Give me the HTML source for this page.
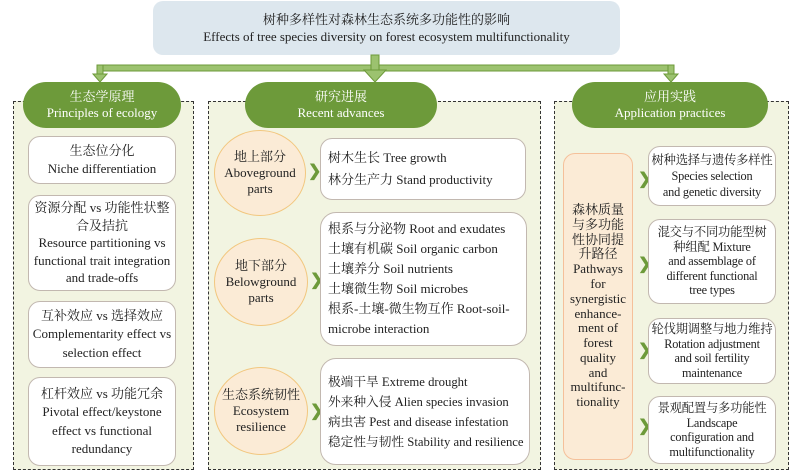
<!DOCTYPE html>
<html><head><meta charset="utf-8"><style>
*{margin:0;padding:0;box-sizing:border-box}
body{width:800px;height:472px;background:#fff;position:relative;overflow:hidden;font-family:"Liberation Serif","Noto Serif CJK SC",serif;font-size:13px;color:#222}
.a{position:absolute}
.panel{position:absolute;background:#f2f4e1;border:1.3px dashed #333}
.pill{position:absolute;background:#6d9a3a;border-radius:24px;color:#fff;text-align:center;font-size:13px;line-height:16px;display:flex;flex-direction:column;justify-content:center}
.box{position:absolute;background:#fff;border:1.3px solid #c2b8b0;border-radius:12px;text-align:center;display:flex;flex-direction:column;justify-content:center;line-height:18.5px}
.lb{text-align:left;padding-left:7px;line-height:20px}
.circ{position:absolute;background:#fbebd6;border:1.3px solid #f2c77f;border-radius:50%;text-align:center;display:flex;flex-direction:column;justify-content:center;line-height:16px}
.chev{position:absolute;color:#6d9a3a;font-size:16px;font-weight:bold;line-height:16px}
.c3{font-size:12.3px;white-space:nowrap;letter-spacing:-0.2px}
</style></head><body>
<div class="a" style="left:153px;top:1px;width:467px;height:54px;background:#dde7ee;border-radius:10px;text-align:center;line-height:17px;padding-top:10px;font-size:13px">树种多样性对森林生态系统多功能性的影响<br>Effects of tree species diversity on forest ecosystem multifunctionality</div>
<svg class="a" style="left:0;top:0" width="800" height="100">
<g fill="#9cc26f" stroke="#6d9a3a" stroke-width="1">
<rect x="97" y="65" width="577" height="6"/>
<rect x="371" y="55" width="8" height="16"/>
<rect x="97" y="65" width="6" height="10"/>
<rect x="668" y="65" width="6" height="10"/>
<polygon points="93,74 107,74 100,82"/>
<polygon points="364,70 386,70 375,82"/>
<polygon points="664,74 678,74 671,82"/>
</g></svg>
<div class="panel" style="left:13px;top:101px;width:181px;height:369px"></div>
<div class="panel" style="left:208px;top:101px;width:333px;height:369px"></div>
<div class="panel" style="left:554px;top:101px;width:235px;height:369px"></div>
<div class="pill" style="left:23px;top:82px;width:158px;height:46px">生态学原理<br>Principles of ecology</div>
<div class="pill" style="left:245px;top:82px;width:192px;height:46px">研究进展<br>Recent advances</div>
<div class="pill" style="left:572px;top:82px;width:196px;height:46px">应用实践<br>Application practices</div>

<div class="box" style="left:28px;top:136px;width:148px;height:48px">生态位分化<br>Niche differentiation</div>
<div class="box" style="left:28px;top:195px;width:148px;height:96px;line-height:17.5px">资源分配 vs 功能性状整<br>合及拮抗<br>Resource partitioning vs<br>functional trait integration<br>and trade-offs</div>
<div class="box" style="left:28px;top:301px;width:148px;height:67px">互补效应 vs 选择效应<br>Complementarity effect vs<br>selection effect</div>
<div class="box" style="left:28px;top:377px;width:148px;height:89px">杠杆效应 vs 功能冗余<br>Pivotal effect/keystone<br>effect vs functional<br>redundancy</div>

<div class="circ" style="left:214px;top:130px;width:92px;height:86px">地上部分<br>Aboveground<br>parts</div>
<div class="circ" style="left:214px;top:238px;width:94px;height:88px">地下部分<br>Belowground<br>parts</div>
<div class="circ" style="left:214px;top:367px;width:94px;height:88px">生态系统韧性<br>Ecosystem<br>resilience</div>
<div class="chev" style="left:308px;top:164px">❯</div>
<div class="chev" style="left:310px;top:273px">❯</div>
<div class="chev" style="left:310px;top:404px">❯</div>
<div class="box lb" style="left:320px;top:138px;width:206px;height:62px;line-height:22px">树木生长 Tree growth<br>林分生产力 Stand productivity</div>
<div class="box lb" style="left:320px;top:212px;width:207px;height:134px;border-radius:16px">根系与分泌物 Root and exudates<br>土壤有机碳 Soil organic carbon<br>土壤养分 Soil nutrients<br>土壤微生物 Soil microbes<br>根系-土壤-微生物互作 Root-soil-<br>microbe interaction</div>
<div class="box lb" style="left:320px;top:358px;width:210px;height:107px;border-radius:16px;white-space:nowrap;font-size:12.7px">极端干旱 Extreme drought<br>外来种入侵 Alien species invasion<br>病虫害 Pest and disease infestation<br>稳定性与韧性 Stability and resilience</div>

<div class="box" style="left:563px;top:153px;width:70px;height:307px;background:#fbebd6;border-color:#f5c09a;line-height:14.8px;font-size:13px">森林质量<br>与多功能<br>性协同提<br>升路径<br>Pathways<br>for<br>synergistic<br>enhance-<br>ment of<br>forest<br>quality<br>and<br>multifunc-<br>tionality</div>
<div class="chev" style="left:638px;top:172px">❯</div>
<div class="chev" style="left:638px;top:257px">❯</div>
<div class="chev" style="left:638px;top:343px">❯</div>
<div class="chev" style="left:638px;top:419px">❯</div>
<div class="box c3" style="left:648px;top:146px;width:128px;height:60px;line-height:16px">树种选择与遗传多样性<br>Species selection<br>and genetic diversity</div>
<div class="box c3" style="left:648px;top:219px;width:128px;height:85px;line-height:14.5px">混交与不同功能型树<br>种组配 Mixture<br>and assemblage of<br>different functional<br>tree types</div>
<div class="box c3" style="left:648px;top:318px;width:128px;height:66px;line-height:14.5px">轮伐期调整与地力维持<br>Rotation adjustment<br>and soil fertility<br>maintenance</div>
<div class="box c3" style="left:648px;top:396px;width:128px;height:68px;line-height:14.5px">景观配置与多功能性<br>Landscape<br>configuration and<br>multifunctionality</div>
</body></html>
